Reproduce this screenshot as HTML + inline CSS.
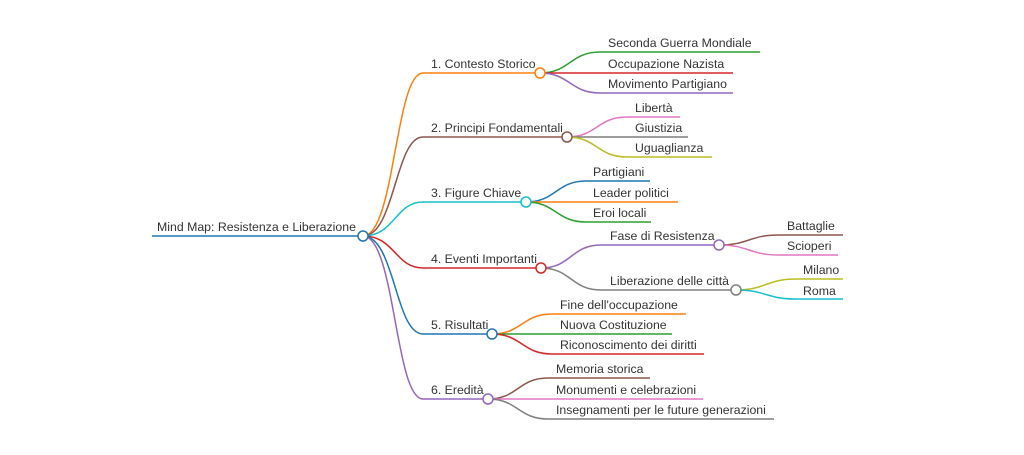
<!DOCTYPE html>
<html><head><meta charset="utf-8"><style>
html,body{margin:0;padding:0;background:#fff;}
svg{display:block}
text{font-family:"Liberation Sans",sans-serif;font-size:12.3px;fill:#333;}
path{fill:none;stroke-width:1.5}
circle{fill:#fff;stroke-width:1.5}
</style></head><body>
<svg width="1024" height="455" viewBox="0 0 1024 455">
<path d="M152 236 H363" stroke="#1f77b4" stroke-width="2"/>
<text x="157" y="231">Mind Map: Resistenza e Liberazione</text>

<path d="M363 236 C395 236 395 73 423 73 H540" stroke="#ff7f0e"/>
<text x="431" y="68">1. Contesto Storico</text>
<path d="M540 73 C570 73 570 52 600 52 H760" stroke="#2ca02c"/>
<text x="608" y="47">Seconda Guerra Mondiale</text>
<path d="M540 73 H733" stroke="#d62728"/>
<text x="608" y="68">Occupazione Nazista</text>
<path d="M540 73 C570 73 570 93 600 93 H733" stroke="#9467bd"/>
<text x="608" y="88">Movimento Partigiano</text>

<path d="M363 236 C395 236 395 137 423 137 H567" stroke="#8c564b"/>
<text x="431" y="132">2. Principi Fondamentali</text>
<path d="M567 137 C597 137 597 117 627 117 H680" stroke="#e377c2"/>
<text x="635" y="112">Libertà</text>
<path d="M567 137 H688" stroke="#7f7f7f"/>
<text x="635" y="132">Giustizia</text>
<path d="M567 137 C597 137 597 157 627 157 H712" stroke="#bcbd22"/>
<text x="635" y="152">Uguaglianza</text>

<path d="M363 236 C395 236 395 202 423 202 H526" stroke="#17becf"/>
<text x="431" y="197">3. Figure Chiave</text>
<path d="M526 202 C556 202 556 181 586 181 H650" stroke="#1f77b4"/>
<text x="593" y="176">Partigiani</text>
<path d="M526 202 H678" stroke="#ff7f0e"/>
<text x="593" y="197">Leader politici</text>
<path d="M526 202 C556 202 556 222 586 222 H651" stroke="#2ca02c"/>
<text x="593" y="217">Eroi locali</text>

<path d="M363 236 C395 236 395 268 423 268 H541" stroke="#d62728"/>
<text x="431" y="263">4. Eventi Importanti</text>
<path d="M541 268 C571 268 571 245 601 245 H719" stroke="#9467bd"/>
<text x="610" y="240">Fase di Resistenza</text>
<path d="M541 268 C571 268 571 290 601 290 H736" stroke="#7f7f7f"/>
<text x="610" y="285">Liberazione delle città</text>
<path d="M719 245 C749 245 749 235 779 235 H843" stroke="#8c564b"/>
<text x="787" y="230">Battaglie</text>
<path d="M719 245 C749 245 749 255 779 255 H838" stroke="#e377c2"/>
<text x="787" y="250">Scioperi</text>
<path d="M736 290 C766 290 766 279 796 279 H843" stroke="#bcbd22"/>
<text x="803" y="274">Milano</text>
<path d="M736 290 C766 290 766 299 796 299 H843" stroke="#17becf"/>
<text x="803" y="295">Roma</text>

<path d="M363 236 C395 236 395 334 423 334 H492" stroke="#1f77b4"/>
<text x="431" y="329">5. Risultati</text>
<path d="M492 334 C522 334 522 314 552 314 H686" stroke="#ff7f0e"/>
<text x="560" y="309">Fine dell'occupazione</text>
<path d="M492 334 H672" stroke="#2ca02c"/>
<text x="560" y="329">Nuova Costituzione</text>
<path d="M492 334 C522 334 522 354 552 354 H704" stroke="#d62728"/>
<text x="560" y="349">Riconoscimento dei diritti</text>

<path d="M363 236 C395 236 395 399 423 399 H488" stroke="#9467bd"/>
<text x="431" y="394">6. Eredità</text>
<path d="M488 399 C518 399 518 378 548 378 H650" stroke="#8c564b"/>
<text x="556" y="373">Memoria storica</text>
<path d="M488 399 H703" stroke="#e377c2"/>
<text x="556" y="394">Monumenti e celebrazioni</text>
<path d="M488 399 C518 399 518 419 548 419 H774" stroke="#7f7f7f"/>
<text x="556" y="414">Insegnamenti per le future generazioni</text>

<circle cx="363" cy="236" r="5" stroke="#1f77b4"/>
<circle cx="540" cy="73" r="5" stroke="#ff7f0e"/>
<circle cx="567" cy="137" r="5" stroke="#8c564b"/>
<circle cx="526" cy="202" r="5" stroke="#17becf"/>
<circle cx="541" cy="268" r="5" stroke="#d62728"/>
<circle cx="719" cy="245" r="5" stroke="#9467bd"/>
<circle cx="736" cy="290" r="5" stroke="#7f7f7f"/>
<circle cx="492" cy="334" r="5" stroke="#1f77b4"/>
<circle cx="488" cy="399" r="5" stroke="#9467bd"/>
</svg>
</body></html>
